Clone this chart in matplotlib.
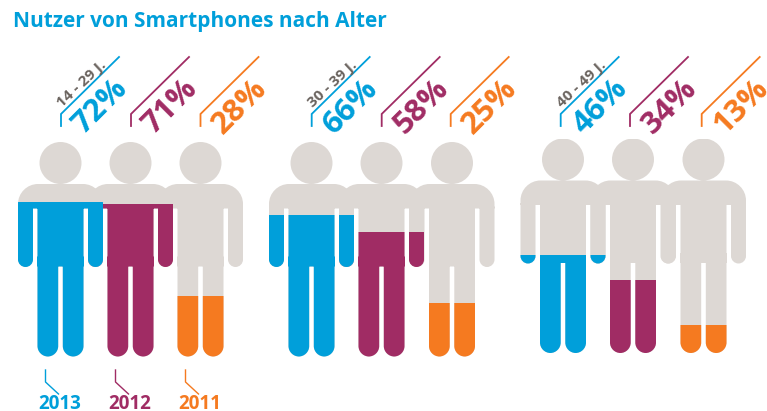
import matplotlib
matplotlib.use('Agg')
import matplotlib.pyplot as plt
from matplotlib.path import Path
from matplotlib.patches import PathPatch
from matplotlib.transforms import Affine2D

plt.rcParams['font.family'] = ['Open Sans', 'DejaVu Sans']

W, H = 767, 411

years = ['2013', '2012', '2011']
colors = ['#009fda', '#a02c64', '#f57a20']
age_groups = ['14 - 29 J.', '30 - 39 J.', '40 - 49 J.']
values_14_29 = [72, 71, 28]
values_30_39 = [66, 58, 25]
values_40_49 = [46, 34, 13]
all_values = [values_14_29, values_30_39, values_40_49]

GREY = '#ddd8d4'
# centre x of each person, feet y, head top y (pixels)
centers = [[60.5, 130.5, 200.5], [311.5, 381.5, 452], [563, 633, 703.5]]
bracket_x = [[61, 131, 200.5], [311.7, 381.7, 450.7], [560.7, 630, 701.7]]
feet = [356.5, 356.5, 353]
head_top = [142, 142, 139]


def rounded_rect(x0, x1, y0, y1, rb=0, rt=0):
    k = 0.55
    v = [(x0, y0 + rb)]
    c = [Path.MOVETO]
    if rt:
        v += [(x0, y1 - rt), (x0, y1 - rt + k * rt), (x0 + rt - k * rt, y1), (x0 + rt, y1), (x1 - rt, y1),
              (x1 - rt + k * rt, y1), (x1, y1 - rt + k * rt), (x1, y1 - rt)]
        c += [Path.LINETO] + [Path.CURVE4] * 3 + [Path.LINETO] + [Path.CURVE4] * 3
    else:
        v += [(x0, y1), (x1, y1)]
        c += [Path.LINETO, Path.LINETO]
    v += [(x1, y0 + rb)]
    c += [Path.LINETO]
    if rb:
        v += [(x1, y0 + rb - k * rb), (x1 - rb + k * rb, y0), (x1 - rb, y0), (x0 + rb, y0),
              (x0 + rb - k * rb, y0), (x0, y0 + rb - k * rb), (x0, y0 + rb)]
        c += [Path.CURVE4] * 3 + [Path.LINETO] + [Path.CURVE4] * 3
    v += [v[0]]
    c += [Path.CLOSEPOLY]
    return Path(v, c)


def person_path():
    # units: pixels, origin at feet centre, y up
    parts = [
        Path.circle((0, 193.5), 21).transformed(Affine2D().scale(1, -1).translate(0, 387)),
        # shoulders
        rounded_rect(-42.5, 42.5, 148, 172.5, rt=20),
        # arms
        rounded_rect(-42.5, -27.5, 89.5, 150, rb=7.5),
        rounded_rect(27.5, 42.5, 89.5, 150, rb=7.5),
        # torso and legs
        rounded_rect(-23, 23, 90, 150),
        rounded_rect(-23, -2.3, 0, 100, rb=10.5),
        rounded_rect(2.3, 23, 0, 100, rb=10.5),
    ]
    return Path.make_compound_path(*parts)


fig = plt.figure(figsize=(W / 100, H / 100), dpi=100)
bg = fig.add_axes([0, 0, 1, 1])
bg.set_xlim(0, W)
bg.set_ylim(H, 0)
bg.axis('off')

bg.text(13, 21, 'Nutzer von Smartphones nach Alter', color='#009fda', fontsize=15,
        fontweight='bold', va='center', ha='left')

shape = person_path()
for g in range(3):
    # right person first, so the left one sits on top at the shared arm
    for p in [2, 1, 0]:
        cx = centers[g][p]
        h = feet[g] - head_top[g]
        ax = fig.add_axes([(cx - 43) / W, (H - feet[g]) / H, 86 / W, h / H])
        ax.set_xlim(-43, 43)
        ax.set_ylim(0, 100)
        ax.axis('off')
        ax.patch.set_alpha(0)
        ax.set_zorder(10 + 3 * g + (2 - p))
        # silhouette is in pixels, the axes in percent
        tr = Affine2D().scale(1, 100 / h) + ax.transData
        ax.add_patch(PathPatch(shape, facecolor=GREY, edgecolor='none', transform=tr))
        bars = ax.bar(0, all_values[g][p], width=86, color=colors[p], linewidth=0)
        for b in bars:
            b.set_clip_path(shape, tr)

        # bracket line and rotated label above
        bx = bracket_x[g][p]
        bg.plot([bx, bx, bx + 58], [126, 114, 57], color=colors[p], lw=1.3,
                solid_joinstyle='miter')
        bg.text(bx + 37, 104, f'{all_values[g][p]}%', color=colors[p], fontsize=22.5,
                fontweight='bold', rotation=45, rotation_mode='anchor', ha='center',
                va='center_baseline')
        if p == 0:
            bg.text(bx + 20, 83, age_groups[g], color='#6b645f', fontsize=11,
                    fontweight='bold', rotation=43, rotation_mode='anchor', ha='center',
                    va='center_baseline')

# legend under first group
for p, cx in enumerate(centers[0]):
    bg.plot([cx - 15, cx - 15, cx - 2], [370, 382, 394], color=colors[p], lw=1.0)
    bg.text(cx - 1, 401.5, years[p], color=colors[p], fontsize=13.5, fontweight='bold',
            ha='center', va='center_baseline')

fig.savefig('out.png', dpi=100)
